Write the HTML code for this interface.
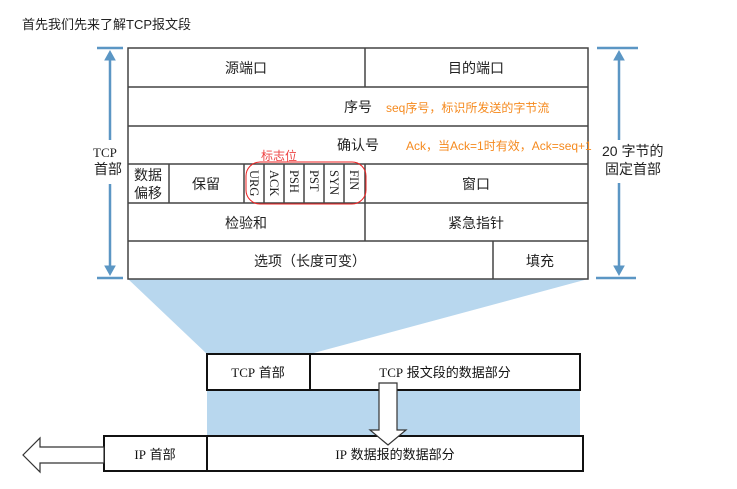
<!DOCTYPE html>
<html><head><meta charset="utf-8"><style>
body{margin:0;background:#fff;width:737px;height:484px;overflow:hidden;font-family:"Liberation Sans","Noto Sans CJK SC",sans-serif}
svg text{font-family:"Liberation Sans","Noto Sans CJK SC",sans-serif}
svg text.s,svg tspan.s{font-family:"Liberation Serif",serif}
</style></head><body>
<svg width="737" height="484" xmlns="http://www.w3.org/2000/svg">
<text x="22" y="29" font-size="13" fill="#222">首先我们先来了解TCP报文段</text>
<polygon points="128,279 588,279 310,354 207,354" fill="#b8d7ee"/>
<rect x="207" y="390" width="373" height="46" fill="#b8d7ee"/>
<g stroke="#444" stroke-width="1.5" fill="none">
<rect x="128" y="48" width="460" height="231" fill="#fff"/>
<line x1="128" y1="87" x2="588" y2="87"/><line x1="128" y1="126" x2="588" y2="126"/>
<line x1="128" y1="164" x2="588" y2="164"/><line x1="128" y1="203" x2="588" y2="203"/>
<line x1="128" y1="241" x2="588" y2="241"/>
<line x1="365" y1="48" x2="365" y2="87"/><line x1="365" y1="164" x2="365" y2="241"/>
<line x1="169" y1="164" x2="169" y2="203"/><line x1="244" y1="164" x2="244" y2="203"/>
<line x1="264" y1="164" x2="264" y2="203"/><line x1="284" y1="164" x2="284" y2="203"/>
<line x1="304" y1="164" x2="304" y2="203"/><line x1="324" y1="164" x2="324" y2="203"/>
<line x1="344" y1="164" x2="344" y2="203"/>
<line x1="493" y1="241" x2="493" y2="279"/>
</g>
<g font-size="14" fill="#222" text-anchor="middle">
<text x="246" y="73">源端口</text><text x="476" y="73">目的端口</text>
<text x="358" y="112">序号</text><text x="358" y="150">确认号</text>
<text x="148" y="180">数据</text><text x="148" y="198">偏移</text>
<text x="206" y="189">保留</text><text x="476" y="189">窗口</text>
<text x="246" y="228">检验和</text><text x="476" y="228">紧急指针</text>
<text x="310" y="266">选项（长度可变）</text><text x="540" y="266">填充</text>
</g>
<g font-size="12.5" fill="#222">
<text class="s" transform="translate(250,170) rotate(90)">URG</text>
<text class="s" transform="translate(270,170) rotate(90)">ACK</text>
<text class="s" transform="translate(290,170) rotate(90)">PSH</text>
<text class="s" transform="translate(310,170) rotate(90)">PST</text>
<text class="s" transform="translate(330,170) rotate(90)">SYN</text>
<text class="s" transform="translate(350,170) rotate(90)">FIN</text>
</g>
<rect x="246" y="162" width="120" height="42" rx="14" fill="none" stroke="#e22" stroke-width="1"/>
<text x="261" y="160" font-size="12" fill="#e44">标志位</text>
<text x="386" y="112" font-size="12" fill="#f58a1f">seq序号，标识所发送的字节流</text>
<text x="406" y="150" font-size="12" fill="#f58a1f">Ack，当Ack=1时有效，Ack=seq+1</text>
<g stroke="#5b96c4" stroke-width="2.5" fill="#5b96c4">
<line x1="97" y1="48" x2="123" y2="48"/><line x1="97" y1="278" x2="123" y2="278"/>
<line x1="110" y1="55" x2="110" y2="140"/><line x1="110" y1="184" x2="110" y2="272"/>
<polygon points="105,60 115,60 110,51" stroke-width="1"/><polygon points="105,266 115,266 110,275" stroke-width="1"/>
<line x1="597" y1="48" x2="638" y2="48"/><line x1="596" y1="278" x2="636" y2="278"/>
<line x1="619" y1="55" x2="619" y2="140"/><line x1="619" y1="183" x2="619" y2="272"/>
<polygon points="614,60 624,60 619,51" stroke-width="1"/><polygon points="614,266 624,266 619,275" stroke-width="1"/>
</g>
<text x="93" y="157" font-size="13" class="s" fill="#222">TCP</text>
<text x="94" y="174" font-size="14" fill="#222">首部</text>
<text x="602" y="156" font-size="14" fill="#222">20 字节的</text>
<text x="605" y="174" font-size="14" fill="#222">固定首部</text>
<g stroke="#111" stroke-width="2" fill="#fff">
<rect x="207" y="354" width="373" height="36"/><line x1="310" y1="354" x2="310" y2="390"/>
<rect x="104" y="436" width="479" height="35"/><line x1="207" y1="436" x2="207" y2="471"/>
</g>
<polygon points="379,383 397,383 397,430 406,430 388,445 370,430 379,430" fill="#fff" stroke="#333" stroke-width="1.2"/>
<polygon points="104,447 40,447 40,438 23,455 40,472 40,463 104,463" fill="#fff" stroke="#333" stroke-width="1.2"/>
<g font-size="13" fill="#111" text-anchor="middle">
<text x="258" y="377"><tspan class="s">TCP</tspan> 首部</text><text x="445" y="377"><tspan class="s">TCP</tspan> 报文段的数据部分</text>
<text x="155" y="459"><tspan class="s">IP</tspan> 首部</text><text x="395" y="459"><tspan class="s">IP</tspan> 数据报的数据部分</text>
</g>
</svg>
</body></html>
